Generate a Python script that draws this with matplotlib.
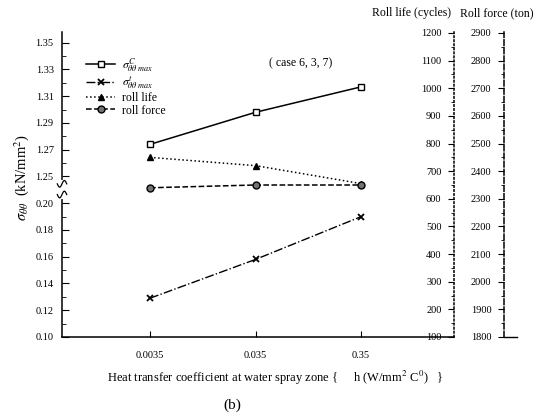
import numpy as np
import matplotlib
matplotlib.use('Agg')
import matplotlib.pyplot as plt
from matplotlib.ticker import MultipleLocator

plt.rcParams['font.family'] = ['Liberation Serif', 'DejaVu Serif']
plt.rcParams['mathtext.fontset'] = 'stix'

h_labels = ['0.0035', '0.035', '0.35']
sigma_c = [1.274, 1.298, 1.317]      # upper part of broken axis
sigma_t = [0.129, 0.158, 0.190]
roll_life = [750, 720, 655]
roll_force = [2340, 2350, 2350]

low_ticks = [0.10, 0.12, 0.14, 0.16, 0.18, 0.20]
high_ticks = [1.25, 1.27, 1.29, 1.31, 1.33, 1.35]
shift = 1.25 - 0.22   # upper values drawn one step above 0.20

fig = plt.figure(figsize=(5.45, 4.16), dpi=100)
W, H = 545, 416
ax = fig.add_axes([62 / W, (416 - 337) / H, 392 / W, 305 / H])
x = np.arange(len(h_labels))

ax.plot(x, np.array(sigma_c) - shift, '-', color='k', lw=1.1, marker='s', ms=5,
        mfc='white', mec='k', label=r'$\sigma^{C}_{\theta\theta\ max}$')
ax.plot(x, sigma_t, '-.', color='k', lw=1, marker='x', ms=5, mew=1.3,
        label=r'$\sigma^{t}_{\theta\theta\ max}$')

ax_life = ax.twinx()
ax_life.plot(x, roll_life, ':', color='k', lw=1.1, marker='^', ms=5, label='roll life')
ax_force = ax.twinx()
ax_force.plot(x, roll_force, '--', color='k', lw=1.1, marker='o', ms=5,
              mfc='0.45', mec='k', label='roll force')

ax.set_xlim(-0.834, 2.88)
ax.set_ylim(0.10, 0.328)
ax.set_xticks(x)
ax.set_xticklabels(h_labels, fontsize=7.5)
ax.tick_params(axis='x', direction='in', length=4, pad=10)
ax.set_yticks([v for v in low_ticks] + [v - shift for v in high_ticks])
ax.set_yticklabels(['%.2f' % v for v in low_ticks] + ['%.2f' % v for v in high_ticks], fontsize=7.5)
ax.set_yticks([0.11, 0.13, 0.15, 0.17, 0.19, 0.23, 0.25, 0.27, 0.29, 0.31], minor=True)
ax.tick_params(axis='y', which='major', direction='in', length=5, pad=6)
ax.tick_params(axis='y', which='minor', direction='in', length=3)
ax.spines['top'].set_visible(False)
ax.spines['right'].set_visible(False)
ax.spines['left'].set_linewidth(1.1)
ax.spines['bottom'].set_linewidth(1.1)

# break marks on the left axis
tr = ax.get_yaxis_transform()
ax.plot([0, 0], [0.2045, 0.2155], color='white', lw=3, transform=tr, clip_on=False, zorder=5)
t = np.linspace(-0.012, 0.012, 30)
for yc in (0.2065, 0.2145):
    ax.plot(t, yc + 0.0025 * np.sin(t / 0.012 * np.pi), color='k', lw=0.9,
            transform=tr, clip_on=False, zorder=6)

for a, pos, ls, lo, hi in [(ax_life, 1.0, ':', 100, 1200),
                           (ax_force, (504 - 62) / 392, '--', 1800, 2900)]:
    for s in ['top', 'right', 'bottom']:
        a.spines[s].set_visible(False)
    a.yaxis.tick_left()
    a.spines['left'].set_visible(True)
    a.spines['left'].set_position(('axes', pos))
    a.spines['left'].set_linestyle(ls)
    a.spines['left'].set_linewidth(1.1)
    a.yaxis.set_major_locator(MultipleLocator(100))
    a.yaxis.set_minor_locator(MultipleLocator(50))
    a.set_ylim(lo, lo + (hi - lo) * 305 / 304)
    a.tick_params(axis='y', which='major', direction='out', length=4, pad=5, labelsize=7.5)
    a.tick_params(axis='y', which='minor', direction='out', length=2)

ax.plot([(504 - 62) / 392, (517 - 62) / 392], [0, 0], color='k', lw=1,
        transform=ax.transAxes, clip_on=False)

fig.text(412 / W, 1 - 13 / H, 'Roll life (cycles)', ha='center', va='center', fontsize=8.5)
fig.text(497 / W, 1 - 13 / H, 'Roll force (ton)', ha='center', va='center', fontsize=8.5)
fig.text(301 / W, 1 - 63 / H, '( case 6, 3, 7)', ha='center', va='center', fontsize=8.5)

handles = []
labels = []
for a in (ax, ax_life, ax_force):
    hh, ll = a.get_legend_handles_labels()
    handles += hh
    labels += ll
ax.legend(handles, labels, loc='upper left', bbox_to_anchor=(0.035, 0.955), frameon=False,
          fontsize=8.5, handlelength=2.4, labelspacing=0.05, handletextpad=0.6)

fig.text(22 / W, 1 - 178 / H, r'$\sigma_{\theta\theta}$  (kN/mm$^2$)', rotation=90,
         ha='center', va='center', fontsize=10.5)
fig.text(275 / W, 1 - 378 / H,
         r'Heat transfer coefficient at water spray zone {     h (W/mm$^2$ C$^0$)   }',
         ha='center', va='center', fontsize=9)
fig.text(232 / W, 1 - 405 / H, '(b)', ha='center', va='center', fontsize=11)

fig.savefig('out.png', dpi=100)
